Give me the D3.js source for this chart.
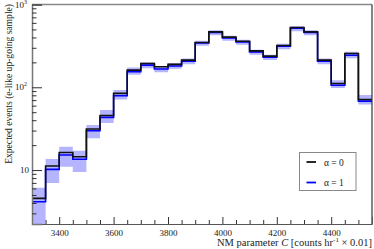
<!DOCTYPE html>
<html>
<head>
<meta charset="utf-8">
<script src="https://cdn.jsdelivr.net/npm/d3@7"></script>
<style>
  body { margin: 0; background: #fff; }
  text { font-family: "Liberation Serif", "DejaVu Serif", serif; fill: #222; }
</style>
</head>
<body>
<svg width="374" height="249"></svg>
<script>
// bin edges: 3300 .. 4550, 50 wide
var binStart = [3300, 3350, 3400, 3450, 3500, 3550, 3600, 3650, 3700, 3750, 3800, 3850, 3900,
                3950, 4000, 4050, 4100, 4150, 4200, 4250, 4300, 4350, 4400, 4450, 4500];
var binWidth = 50;

// alpha = 0 (black)
var alpha0 = [4.55, 11.2, 16.3, 14.5, 31.3, 45.7, 84.3, 161, 194, 177, 189, 213, 348,
              467, 403, 360, 275, 238, 320, 527, 467, 213, 111, 256, 71.3];
// alpha = 1 (blue)
var alpha1 = [4.14, 10.2, 15.2, 13.5, 29.8, 43.3, 78.9, 154, 185, 166, 181, 207, 344,
              459, 395, 354, 268, 231, 314, 518, 459, 207, 106, 244, 68];
// uncertainty band around alpha = 1
var bandHi = [6.1, 13.6, 19.1, 17.1, 34.9, 53, 92.4, 173, 201, 180, 196, 222, 366,
              489, 420, 376, 285, 248, 336, 547, 489, 222, 122, 268, 80.4];
var bandLo = [2.0, 7.0, 11.0, 9.5, 24.3, 36.9, 71.3, 142, 170, 152, 168, 190, 318,
              426, 366, 327, 248, 213, 289, 476, 426, 190, 97.7, 225, 61.8];

var xMajor = [3400, 3600, 3800, 4000, 4200, 4400];

var svg = d3.select("svg"),
    margin = { top: 4.5, right: 2, bottom: 25, left: 32 },
    width = +svg.attr("width") - margin.left - margin.right,
    height = +svg.attr("height") - margin.top - margin.bottom;

var x = d3.scaleLinear().domain([3300, 4550]).range([0, width]);
var y = d3.scaleLog().domain([2.23, 1000]).range([height, 0]);

var g = svg.append("g")
    .attr("transform", "translate(" + margin.left + "," + margin.top + ")");

g.append("clipPath").attr("id", "clip")
  .append("rect").attr("width", width).attr("height", height);

// step data: repeat last value at the end edge
function steps(vals) {
    var pts = binStart.map(function (b, i) { return { x: b, v: vals[i] }; });
    pts.push({ x: binStart[binStart.length - 1] + binWidth, v: vals[vals.length - 1] });
    return pts;
}

var bandPts = binStart.map(function (b, i) { return { x: b, lo: bandLo[i], hi: bandHi[i] }; });
bandPts.push({ x: 4550, lo: bandLo[24], hi: bandHi[24] });

var area = d3.area()
    .x(function (d) { return x(d.x); })
    .y0(function (d) { return y(d.lo); })
    .y1(function (d) { return y(d.hi); })
    .curve(d3.curveStepAfter);

var line = d3.line()
    .x(function (d) { return x(d.x); })
    .y(function (d) { return y(d.v); })
    .curve(d3.curveStepAfter);

var plot = g.append("g").attr("clip-path", "url(#clip)");

plot.append("path").datum(bandPts)
    .attr("d", area)
    .attr("fill", "#b4b4ff");

plot.append("path").datum(steps(alpha1))
    .attr("d", line)
    .attr("fill", "none")
    .attr("stroke", "#0000ff")
    .attr("stroke-width", 1.6);

plot.append("path").datum(steps(alpha0))
    .attr("d", line)
    .attr("fill", "none")
    .attr("stroke", "#111")
    .attr("stroke-width", 1.6);

// frame
g.append("line").attr("x1", 0).attr("x2", width).attr("y1", 0).attr("y2", 0)
    .attr("stroke", "#888").attr("stroke-width", 1.5);
g.append("line").attr("x1", width).attr("x2", width).attr("y1", 0).attr("y2", height)
    .attr("stroke", "#333").attr("stroke-width", 1.2);

// x axis, ticks pointing inward
var xMinor = d3.range(3350, 4550, 50).filter(function (v) { return xMajor.indexOf(v) < 0; });
var xAxis = g.append("g").attr("transform", "translate(0," + height + ")")
    .call(d3.axisTop(x).tickValues(xMajor).tickSize(7).tickFormat(""));
xAxis.selectAll(".tick").append("text")
    .attr("y", 11.5).attr("text-anchor", "middle").attr("font-size", 9)
    .text(function (d) { return d; });
g.append("g").attr("transform", "translate(0," + height + ")")
    .call(d3.axisTop(x).tickValues(xMinor).tickSize(4).tickFormat(""))
    .select(".domain").remove();

// y axis, ticks pointing inward
var yMinor = [];
[1, 10, 100].forEach(function (dec) {
    d3.range(2, 10).forEach(function (k) {
        var v = k * dec;
        if (v > 2.23 && v < 1000) yMinor.push(v);
    });
});
g.append("g")
    .call(d3.axisRight(y).tickValues([10, 100, 1000]).tickSize(10).tickFormat(""))
    .call(function (a) { a.select(".domain").attr("stroke", "#777").attr("stroke-width", 1.5); });
g.append("g")
    .call(d3.axisRight(y).tickValues(yMinor).tickSize(4.5).tickFormat(""))
    .select(".domain").remove();
g.selectAll(".tick line").attr("stroke", "#333");
xAxis.select(".domain").attr("stroke", "#555");

var yLab = g.append("g").attr("font-size", 9);
[[10, "10", null], [100, "10", "2"], [1000, "10", "3"]].forEach(function (t) {
    var tx = yLab.append("text")
        .attr("x", t[2] ? -5 : -3).attr("y", y(t[0]) + 3)
        .attr("text-anchor", "end");
    tx.append("tspan").text(t[1]);
    if (t[2]) tx.append("tspan").attr("dy", -4).attr("font-size", 6).text(t[2]);
});

// axis titles
var xt = svg.append("text")
    .attr("x", 372).attr("y", 246)
    .attr("text-anchor", "end").attr("font-size", 10.5);
xt.append("tspan").text("NM parameter ");
xt.append("tspan").attr("font-style", "italic").text("C");
xt.append("tspan").text(" [counts hr");
xt.append("tspan").attr("dy", -4).attr("font-size", 7).text("-1");
xt.append("tspan").attr("dy", 4).text(" \u00d7 0.01]");

svg.append("text")
    .attr("transform", "translate(11.5,4) rotate(-90)")
    .attr("text-anchor", "end").attr("font-size", 9.6)
    .text("Expected events (e-like up-going sample)");

// legend
var leg = svg.append("g");
leg.append("rect")
    .attr("x", 299.5).attr("y", 152.5).attr("width", 56.5).attr("height", 38)
    .attr("fill", "#fff").attr("stroke", "#888").attr("stroke-width", 1);
var legItems = [{ lab: "\u03b1 = 0", c: "#111", y: 162 }, { lab: "\u03b1 = 1", c: "#0000ff", y: 182.5 }];
legItems.forEach(function (d) {
    leg.append("line").attr("x1", 306.5).attr("x2", 316).attr("y1", d.y).attr("y2", d.y)
        .attr("stroke", d.c).attr("stroke-width", 1.8);
    leg.append("text").attr("x", 324).attr("y", d.y + 3.5).attr("font-size", 9.5).text(d.lab);
});
</script>
</body>
</html>
